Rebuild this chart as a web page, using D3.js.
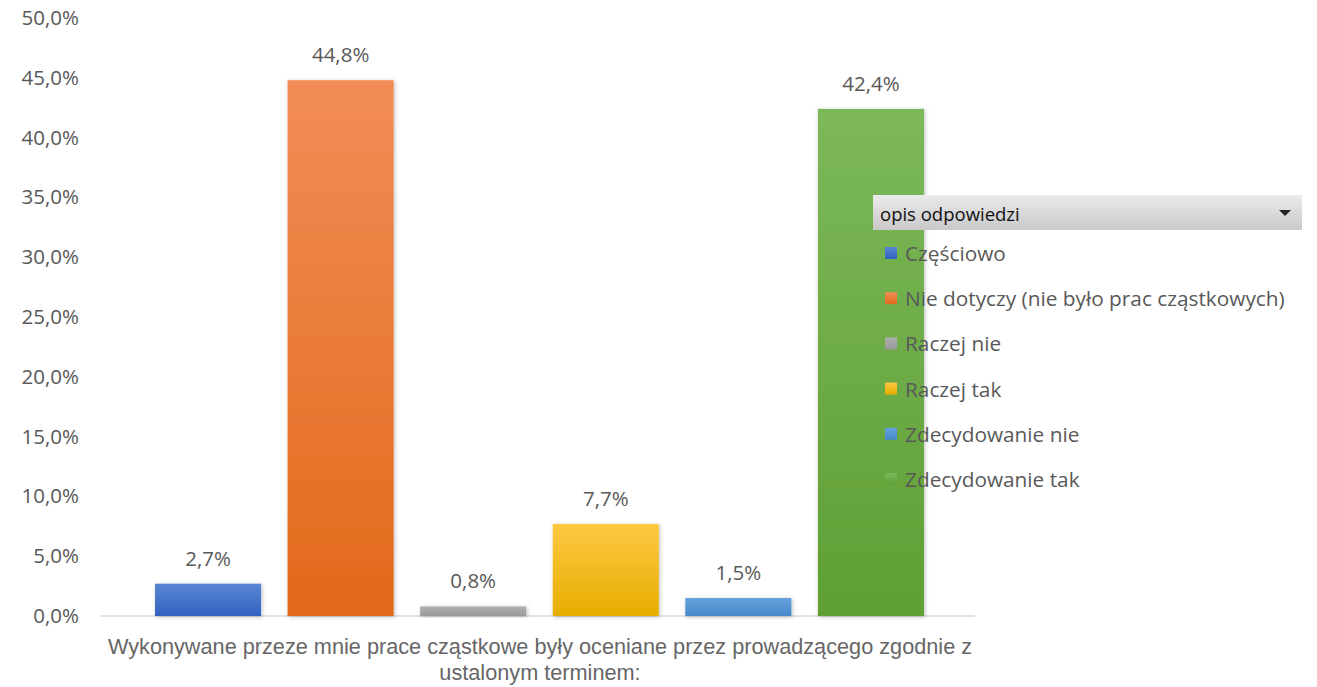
<!DOCTYPE html>
<html><head><meta charset="utf-8">
<script src="https://cdn.jsdelivr.net/npm/d3@7"></script>
<style>body{margin:0;background:#fff}svg{display:block}</style>
</head><body><svg id="c" width="1317" height="687"></svg>
<script>
const categories = ["Wykonywane przeze mnie prace cząstkowe były oceniane przez prowadzącego zgodnie z ustalonym terminem:"];
const categoryLines = ["Wykonywane przeze mnie prace cząstkowe były oceniane przez prowadzącego zgodnie z", "ustalonym terminem:"];
const series = ["Częściowo", "Nie dotyczy (nie było prac cząstkowych)", "Raczej nie", "Raczej tak", "Zdecydowanie nie", "Zdecydowanie tak"];
const values = [2.7, 44.8, 0.8, 7.7, 1.5, 42.4];
const yTicks = [0, 5, 10, 15, 20, 25, 30, 35, 40, 45, 50];
const legendTitle = "opis odpowiedzi";
const colors = [["#5a86d2","#3162bf"],["#f28d57","#e2691a"],["#b0b0b0","#999999"],["#ffc843","#e6ad00"],["#64a2dd","#4788cb"],["#7cb85a","#5f9f34"]];

const svg = d3.select("#c");
const fmt = v => v.toFixed(1).replace(".", ",") + "%";
const y = d3.scaleLinear().domain([0, 50]).range([616, 18]);
const x0 = d3.scaleBand().domain(categories).range([102, 977]).paddingOuter(0.05).paddingInner(0);
const x1 = d3.scaleBand().domain(series).range([0, x0.bandwidth()]).paddingInner(0.2).paddingOuter(0.1);

const defs = svg.append("defs");
colors.forEach((c, i) => {
  const g = defs.append("linearGradient").attr("id", "g" + i).attr("x1", 0).attr("y1", 0).attr("x2", 0).attr("y2", 1);
  g.append("stop").attr("offset", "0%").attr("stop-color", c[0]);
  g.append("stop").attr("offset", "100%").attr("stop-color", c[1]);
});
const f = defs.append("filter").attr("id", "sh").attr("x", "-20%").attr("y", "-20%").attr("width", "140%").attr("height", "140%");
f.append("feDropShadow").attr("dx", 1).attr("dy", 1).attr("stdDeviation", 2).attr("flood-color", "#000").attr("flood-opacity", 0.25);
const hg = defs.append("linearGradient").attr("id", "hg").attr("x1", 0).attr("y1", 0).attr("x2", 0).attr("y2", 1);
hg.append("stop").attr("offset", "0%").attr("stop-color", "#ebebeb");
hg.append("stop").attr("offset", "100%").attr("stop-color", "#c9c9c9");

// y axis
const yAxis = d3.axisLeft(y).tickValues(yTicks).tickFormat(d => d.toFixed(1).replace(".", ",") + "%").tickSize(0).tickPadding(0);
const ya = svg.append("g").attr("transform", "translate(79,0)").call(yAxis);
ya.select(".domain").remove();
ya.selectAll("text").attr("font-family", "Open Sans").attr("font-size", 20.5).attr("fill", "#595959");

// baseline
svg.append("line").attr("x1", 100).attr("x2", 975).attr("y1", y(0)).attr("y2", y(0)).attr("stroke", "#d9d9d9").attr("stroke-width", 1.5);

// bars
const g = svg.append("g").attr("transform", `translate(${x0(categories[0])},0)`);
g.selectAll("rect").data(series).join("rect")
  .attr("x", d => x1(d)).attr("width", x1.bandwidth())
  .attr("y", (d, i) => y(values[i])).attr("height", (d, i) => y(0) - y(values[i]))
  .attr("fill", (d, i) => `url(#g${i})`).attr("filter", "url(#sh)");
g.selectAll("text.v").data(series).join("text").attr("class", "v")
  .attr("x", d => x1(d) + x1.bandwidth() / 2).attr("y", (d, i) => y(values[i]) - 18)
  .attr("text-anchor", "middle").attr("font-family", "Open Sans").attr("font-size", 20.5).attr("fill", "#595959")
  .text((d, i) => fmt(values[i]));

// category label
svg.selectAll("text.cat").data(categoryLines).join("text").attr("class", "cat")
  .attr("x", 540).attr("y", (d, i) => 654 + i * 26)
  .attr("text-anchor", "middle").attr("font-family", "Liberation Sans Narrow, Liberation Sans").attr("font-size", 21.7).attr("fill", "#666666")
  .text(d => d);

// legend
const lg = svg.append("g");
lg.append("rect").attr("x", 873).attr("y", 195).attr("width", 429).attr("height", 35).attr("fill", "url(#hg)");
lg.append("text").attr("x", 880).attr("y", 213).attr("dominant-baseline", "central").attr("font-family", "Open Sans").attr("font-size", 18.5).attr("fill", "#111").text(legendTitle);
lg.append("path").attr("d", "M1279,210 L1291,210 L1285,216 Z").attr("fill", "#222");
const li = lg.selectAll("g.it").data(series).join("g").attr("class", "it")
  .attr("transform", (d, i) => `translate(885,${253 + i * 45.2})`);
li.append("rect").attr("x", 0).attr("y", -6).attr("width", 12).attr("height", 12).attr("fill", (d, i) => `url(#g${i})`);
li.append("text").attr("x", 20).attr("y", 0).attr("dominant-baseline", "central").attr("font-family", "Open Sans").attr("font-size", 20.8).attr("fill", "#595959").text(d => d);
</script></body></html>
